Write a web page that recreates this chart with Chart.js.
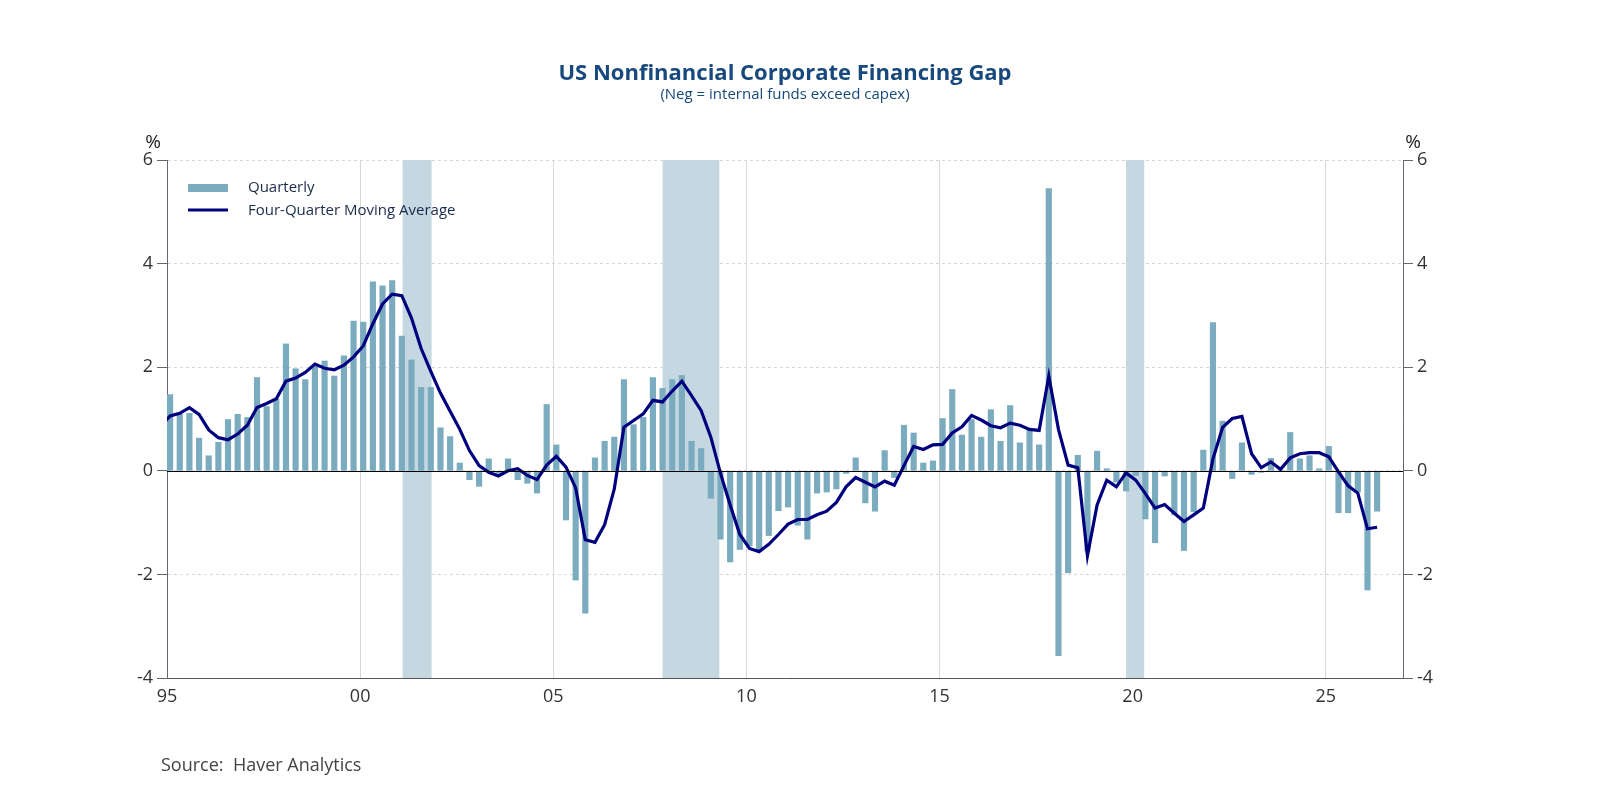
<!DOCTYPE html>
<html><head><meta charset="utf-8">
<script src="https://cdn.jsdelivr.net/npm/chart.js@4.4.1/dist/chart.umd.min.js"></script>
<style>html,body{margin:0;padding:0;background:#fff}#wrap{width:1600px;height:800px;position:relative}</style>
</head><body><div id="wrap"><canvas id="c" width="1600" height="800"></canvas></div>
<script>
const startYear = 1995.08; // first quarter position
const quarterly = [1.47,1.09,1.11,0.63,0.29,0.55,0.99,1.09,1.03,1.80,1.24,1.38,2.45,1.97,1.76,2.03,2.12,1.83,2.22,2.89,2.87,3.65,3.57,3.67,
2.60,2.14,1.61,1.61,0.83,0.66,0.15,-0.17,-0.30,0.23,-0.05,0.23,-0.17,-0.24,-0.43,1.28,0.50,-0.95,-2.11,-2.75,0.25,0.57,0.65,
1.76,0.89,1.03,1.80,1.59,1.76,1.84,0.57,0.43,-0.53,-1.32,-1.76,
-1.52,-1.45,-1.55,-1.25,-0.77,-0.70,-1.05,-1.32,-0.43,-0.41,-0.35,
-0.05,0.25,-0.62,-0.78,0.39,-0.13,0.88,0.73,0.15,0.19,1.01,1.57,0.69,0.99,0.65,1.18,0.57,1.26,0.54,0.78,0.50,5.45,-3.57,-1.97,
0.30,-1.55,0.38,0.04,-0.22,-0.39,-0.09,-0.93,-1.39,-0.10,-0.85,-1.54,-0.79,0.40,
2.86,0.96,-0.15,0.54,-0.07,-0.03,0.24,0.02,0.74,0.23,0.29,0.04,0.47,-0.81,-0.81,-0.41,-2.30,-0.78];
const movingAvg = [0.85,
1.06,1.11,1.22,1.09,0.79,0.64,0.60,0.71,0.88,1.22,1.30,1.39,1.73,1.79,1.90,2.06,1.98,1.95,2.04,2.20,2.41,2.84,3.22,3.41,
3.38,2.95,2.36,1.92,1.50,1.15,0.80,0.39,0.10,-0.03,-0.10,0.0,0.04,-0.09,-0.17,0.11,0.28,0.07,-0.33,-1.33,-1.38,-1.04,-0.35,
0.84,0.97,1.10,1.36,1.33,1.54,1.73,1.45,1.16,0.65,-0.05,-0.66,-1.23,-1.50,-1.56,-1.42,-1.23,-1.03,-0.94,-0.94,-0.85,-0.78,-0.61,
-0.31,-0.13,-0.22,-0.31,-0.20,-0.28,0.10,0.47,0.41,0.50,0.51,0.73,0.85,1.07,0.98,0.87,0.83,0.92,0.88,0.80,0.78,1.83,0.80,0.11,
0.06,-1.64,-0.66,-0.18,-0.31,-0.04,-0.18,-0.44,-0.72,-0.65,-0.82,-0.98,-0.85,
-0.72,0.23,0.84,1.01,1.05,0.33,0.06,0.17,0.03,0.25,0.33,0.35,0.35,0.27,-0.02,-0.29,-0.43,-1.12,-1.09];
const recessionStart = [2001.1, 2007.83, 2019.83];
const recessionEnd   = [2001.85, 2009.3, 2020.3];
const xTickLabels = {1995:'95',2000:'00',2005:'05',2010:'10',2015:'15',2020:'20',2025:'25'};

const barData = quarterly.map((v,i)=>({x:startYear+i*0.25,y:v}));
const lineData = movingAvg.map((v,i)=>({x:startYear+(i-1)*0.25,y:v}));
const FONT = "'Open Sans', 'Noto Sans', sans-serif";

const deco = {
  id:'deco',
  beforeDatasetsDraw(chart){
    const {ctx, chartArea:a, scales:{x}} = chart;
    ctx.save();
    ctx.fillStyle = '#c5d8e2';
    recessionStart.forEach((s,i)=>{
      const x0=x.getPixelForValue(s), x1=x.getPixelForValue(recessionEnd[i]);
      ctx.fillRect(x0,a.top,x1-x0,a.bottom-a.top);
    });
    ctx.restore();
  },
  afterDatasetsDraw(chart){
    const {ctx, chartArea:a, scales:{y}} = chart;
    ctx.save();
    const y0 = Math.round(y.getPixelForValue(0));
    ctx.strokeStyle='#000'; ctx.lineWidth=1;
    ctx.beginPath(); ctx.moveTo(a.left,y0+0.5); ctx.lineTo(a.right,y0+0.5); ctx.stroke();
    ctx.restore();
  },
  afterDraw(chart){
    const {ctx} = chart;
    ctx.save();
    ctx.textAlign='center'; ctx.textBaseline='alphabetic';
    ctx.fillStyle='#17497c';
    ctx.font="bold 22px "+FONT;
    ctx.fillText('US Nonfinancial Corporate Financing Gap',785,80);
    ctx.font="15px "+FONT;
    ctx.fillText('(Neg = internal funds exceed capex)',785,99);
    ctx.fillStyle='#222';
    ctx.font="19px "+FONT;
    ctx.fillText('%',153,148);
    ctx.fillText('%',1413,148);
    ctx.fillStyle='#7aabbf'; ctx.fillRect(188,184,40,8);
    ctx.strokeStyle='#00007f'; ctx.lineWidth=3;
    ctx.beginPath(); ctx.moveTo(188,210); ctx.lineTo(228,210); ctx.stroke();
    ctx.fillStyle='#1a2a4a'; ctx.textAlign='left'; ctx.textBaseline='middle';
    ctx.font="15px "+FONT;
    ctx.fillText('Quarterly',248,188);
    ctx.fillText('Four-Quarter Moving Average',248,211);
    ctx.fillStyle='#444'; ctx.font="18px "+FONT; ctx.textBaseline='alphabetic';
    ctx.fillText('Source:  Haver Analytics',161,771);
    ctx.restore();
  }
};

new Chart(document.getElementById('c'),{
  type:'bar',
  data:{datasets:[
    {type:'line',label:'Four-Quarter Moving Average',data:lineData,borderColor:'#00007f',borderWidth:3.2,pointRadius:0,tension:0,order:0},
    {type:'bar',label:'Quarterly',data:barData,backgroundColor:'#7aabbf',barThickness:5.5,order:1}
  ]},
  options:{
    responsive:false,animation:false,
    layout:{padding:{top:160,left:0,right:0,bottom:0}},
    plugins:{legend:{display:false},tooltip:{enabled:false}},
    scales:{
      x:{type:'linear',min:1995,max:2027,offset:false,bounds:'ticks',
        afterFit(s){s.height=122;},
        ticks:{stepSize:5,autoSkip:false,callback:(v)=>xTickLabels[v]||'',font:{size:18,family:FONT},color:'#333',padding:8,maxRotation:0},
        grid:{offset:false,color:'#d8d8d8',drawTicks:false},
        border:{display:true,color:'#555'}
      },
      y:{position:'left',min:-4,max:6,
        afterFit(s){s.width=167;},
        ticks:{stepSize:2,font:{size:18,family:FONT},color:'#333',padding:4},
        grid:{color:'#d8d8d8',tickColor:'#666',tickLength:10},
        border:{color:'#667',dash:[3,3]}
      },
      y2:{position:'right',min:-4,max:6,
        afterFit(s){s.width=197;},
        ticks:{stepSize:2,font:{size:18,family:FONT},color:'#333',padding:4},
        grid:{drawOnChartArea:false,tickColor:'#666',tickLength:10},
        border:{color:'#667'}
      }
    }
  },
  plugins:[deco]
});
</script></body></html>
